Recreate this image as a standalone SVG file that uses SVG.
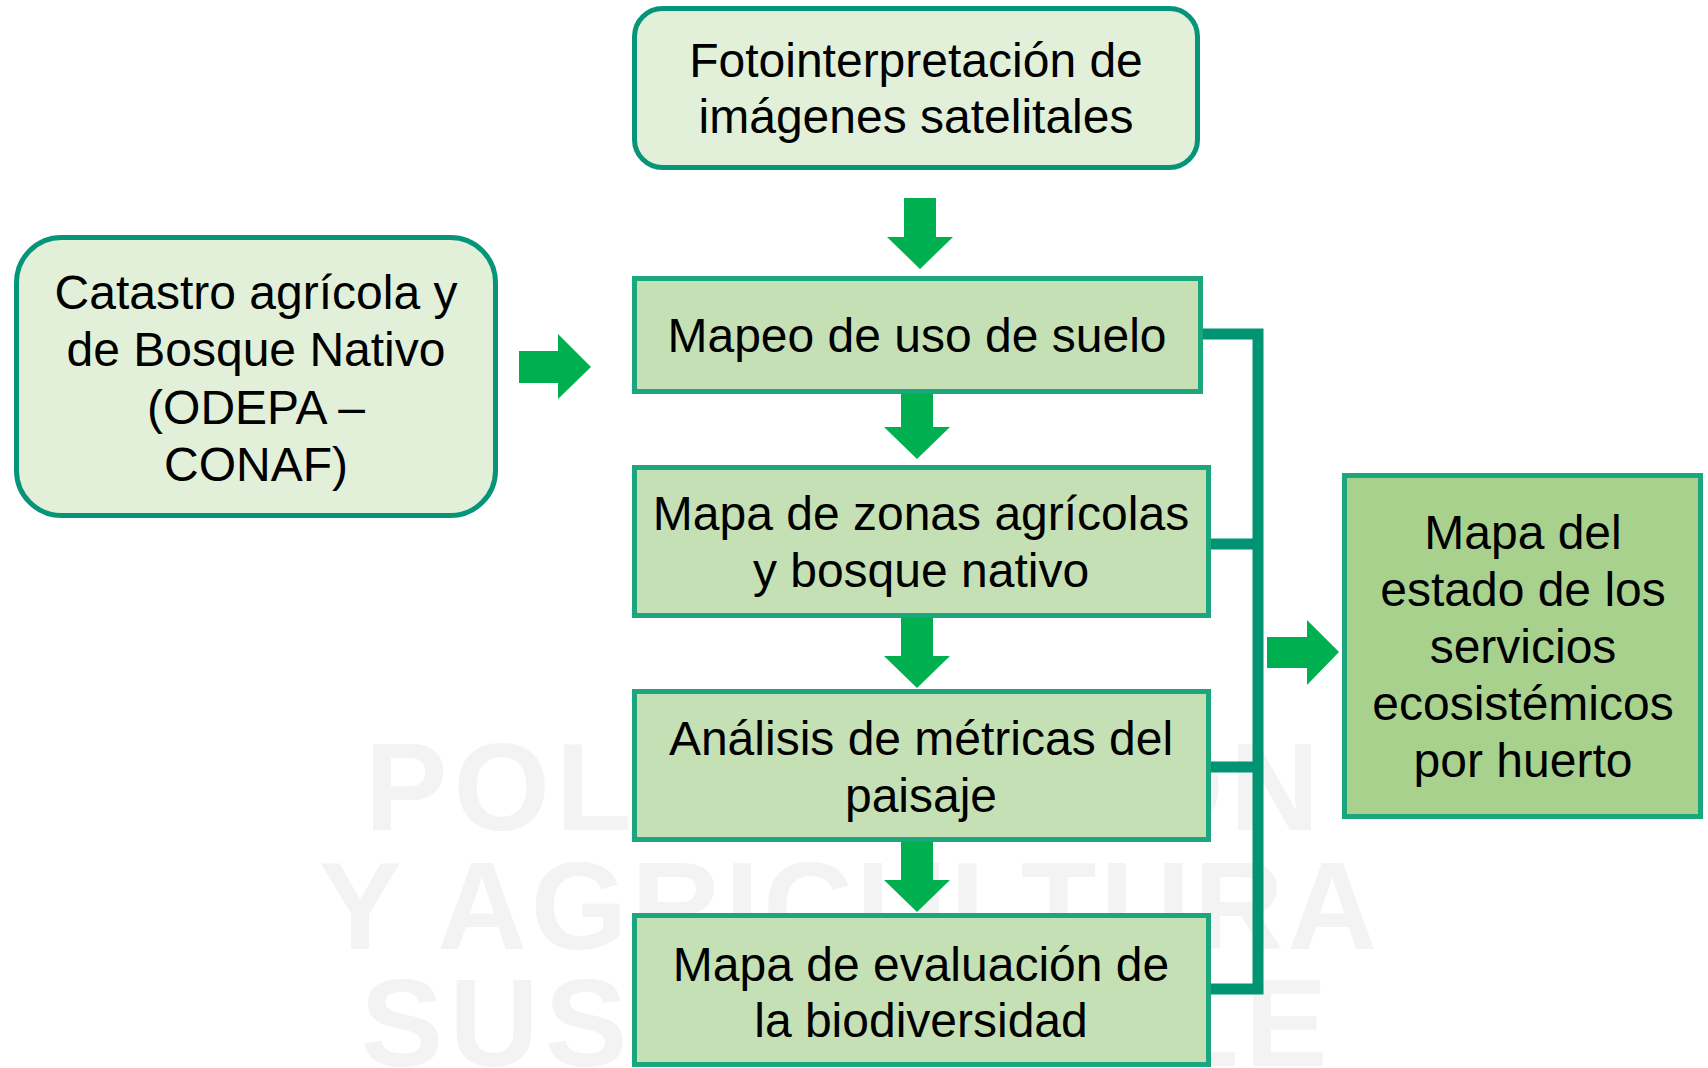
<svg xmlns="http://www.w3.org/2000/svg" width="1708" height="1068" viewBox="0 0 1708 1068">
<style>
.wm{font-family:"Liberation Sans",Arial,sans-serif;font-weight:bold;font-size:124px;fill:#f3f3f3;text-anchor:middle}
.t{font-family:"Liberation Sans",Arial,sans-serif;font-size:48px;fill:#000;text-anchor:middle}
.rbox{fill:#e2f0d9;stroke:#07957a;stroke-width:5}
.box{fill:#c5e0b4;stroke:#1ba67e;stroke-width:5}
.out{fill:#a9d18e;stroke:#1ba67e;stroke-width:5}
.arr{fill:#00b050}
.con{fill:none;stroke:#009473;stroke-width:11}
</style>
<rect width="1708" height="1068" fill="#ffffff"/>
<g id="watermark">
<text class="wm" x="845" y="830" letter-spacing="6">POLINIZACIÓN</text>
<text class="wm" x="850" y="949" letter-spacing="4">Y AGRICULTURA</text>
<text class="wm" x="847" y="1066" letter-spacing="6">SUSTENTABLE</text>
</g>
<g id="connectors">
<polyline class="con" points="1203,334 1258,334 1258,989 1211,989"/>
<line class="con" x1="1211" y1="544" x2="1258" y2="544"/>
<line class="con" x1="1211" y1="767" x2="1258" y2="767"/>
<polygon class="arr" points="904,198 936,198 936,237 953,237 920,269 887,237 904,237"/>
<polygon class="arr" points="901,394 933,394 933,427 950,427 917,459 884,427 901,427"/>
<polygon class="arr" points="901,618 933,618 933,656 950,656 917,688 884,656 901,656"/>
<polygon class="arr" points="901,842 933,842 933,880 950,880 917,912 884,880 901,880"/>
<polygon class="arr" points="519,351 558,351 558,334 591,367 558,399 558,383 519,383"/>
<polygon class="arr" points="1267,637 1307,637 1307,620 1339,652 1307,685 1307,668 1267,668"/>
</g>
<g id="node-foto">
<rect class="rbox" x="634.5" y="8.5" width="563" height="159" rx="28"/>
<text class="t" x="916" y="77">Fotointerpretación de</text>
<text class="t" x="916" y="133">imágenes satelitales</text>
</g>
<g id="node-catastro">
<rect class="rbox" x="16.5" y="237.5" width="479" height="278" rx="45"/>
<text class="t" x="256" y="309">Catastro agrícola y</text>
<text class="t" x="256" y="366">de Bosque Nativo</text>
<text class="t" x="256" y="424">(ODEPA –</text>
<text class="t" x="256" y="481">CONAF)</text>
</g>
<g id="node-mapeo">
<rect class="box" x="634.5" y="278.5" width="566" height="113"/>
<text class="t" x="917" y="352">Mapeo de uso de suelo</text>
</g>
<g id="node-zonas">
<rect class="box" x="634.5" y="467.5" width="574" height="148"/>
<text class="t" x="921" y="530">Mapa de zonas agrícolas</text>
<text class="t" x="921" y="587">y bosque nativo</text>
</g>
<g id="node-analisis">
<rect class="box" x="634.5" y="691.5" width="574" height="148"/>
<text class="t" x="921" y="755">Análisis de métricas del</text>
<text class="t" x="921" y="812">paisaje</text>
</g>
<g id="node-bio">
<rect class="box" x="634.5" y="915.5" width="574" height="149"/>
<text class="t" x="921" y="981">Mapa de evaluación de</text>
<text class="t" x="921" y="1037">la biodiversidad</text>
</g>
<g id="node-estado">
<rect class="out" x="1344.5" y="475.5" width="356" height="341"/>
<text class="t" x="1523" y="549">Mapa del</text>
<text class="t" x="1523" y="606">estado de los</text>
<text class="t" x="1523" y="663">servicios</text>
<text class="t" x="1523" y="720">ecosistémicos</text>
<text class="t" x="1523" y="777">por huerto</text>
</g>
</svg>
